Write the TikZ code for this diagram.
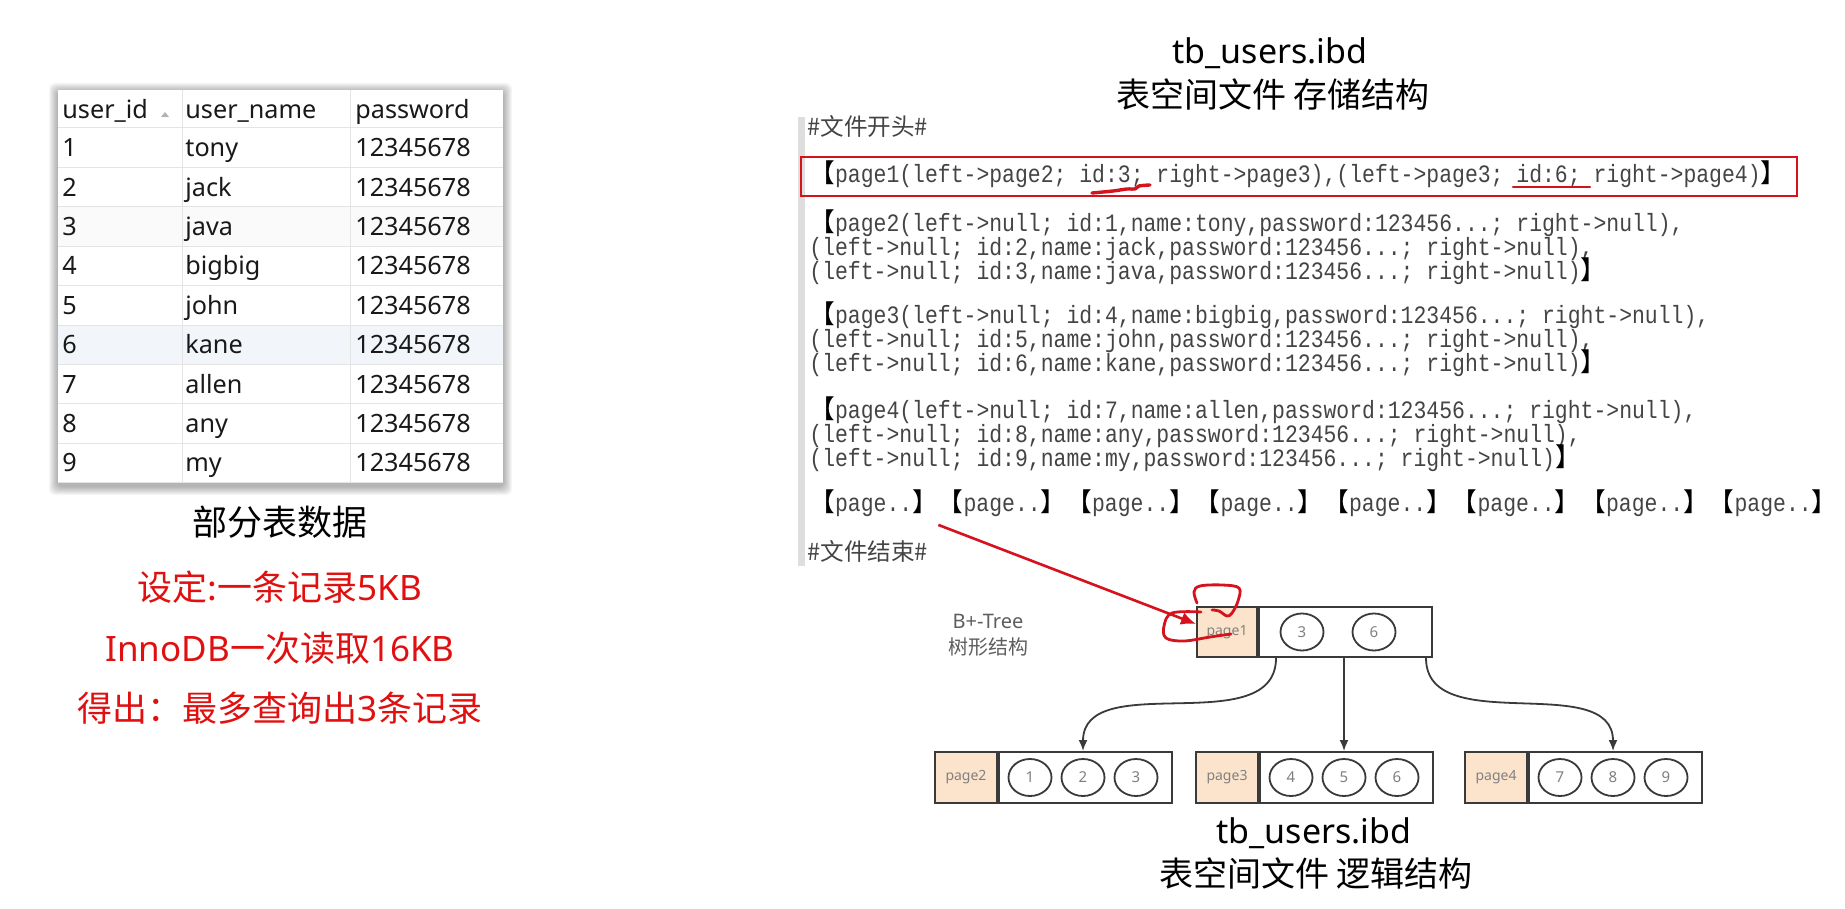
\documentclass[tikz,border=0pt]{standalone}
\usepackage{fontspec}
\setmainfont{Noto Sans CJK SC}
\newfontfamily\latin{Noto Sans}
\newfontfamily\cjkfont{Noto Sans CJK SC}
\newfontfamily\codefont[FakeStretch=0.857]{Liberation Mono}
\usepackage{xcolor}
\usepackage{tikz}
\usetikzlibrary{arrows.meta,positioning,shapes.geometric,calc}
\definecolor{codeGray}{HTML}{444444}
\definecolor{markRed}{RGB}{214,18,28}
\definecolor{noteRed}{RGB}{224,16,16}
\definecolor{pagePeach}{RGB}{252,228,204}
\definecolor{lineGray}{HTML}{3A3A3A}
\definecolor{labelGray}{HTML}{808080}
\definecolor{treeGray}{HTML}{5E5E5E}
\definecolor{rowTint}{HTML}{F2F5FA}
\definecolor{gridGray}{HTML}{E4E4E4}
\newcommand\lbk{{\cjkfont\fontsize{12.85pt}{15pt}\selectfont\color{black}【}}
\newcommand\rbk{{\cjkfont\fontsize{12.85pt}{15pt}\selectfont\color{black}】}}
\tikzset{
  tabtext/.style={anchor=base west, inner sep=0pt, font=\latin\fontsize{12.6pt}{15pt}\selectfont, text=black!90},
  note/.style={inner sep=0pt, font=\fontsize{17.5pt}{21pt}\selectfont},
  title/.style={inner sep=0pt, font=\fontsize{17pt}{20pt}\selectfont},
  code/.style={anchor=base west, inner sep=0pt, text height=9pt, text depth=2.5pt, font=\codefont\fontsize{12.5pt}{15pt}\selectfont, text=codeGray},
  fileedge/.style={anchor=base west, inner sep=0pt, font=\fontsize{11.8pt}{14pt}\selectfont, text=codeGray},
  treelabel/.style={inner sep=0pt, font=\fontsize{10pt}{12pt}\selectfont, text=treeGray},
  pgcell/.style={rectangle, draw=lineGray, line width=1pt, fill=pagePeach, minimum width=31pt, minimum height=25.5pt, inner sep=0pt, font=\latin\fontsize{7pt}{9pt}\selectfont, text=labelGray},
  recbox/.style={rectangle, draw=lineGray, line width=1pt, minimum width=86.5pt, minimum height=25.5pt, inner sep=0pt, anchor=west},
  keynode/.style={ellipse, draw=lineGray, line width=0.9pt, minimum width=21.5pt, minimum height=18.5pt, inner sep=0pt, font=\latin\fontsize{7.5pt}{9pt}\selectfont, text=labelGray},
  arrow/.style={-{Latex[length=5.5pt,width=4.5pt]}, line width=0.9pt, draw=lineGray},
  redarrow/.style={-{Latex[length=7.5pt,width=6.5pt]}, line width=1.3pt, draw=markRed},
  redpen/.style={line width=1.4pt, draw=markRed, line cap=round, line join=round}
}
\begin{document}
\begin{tikzpicture}[x=0.5pt, y=-0.5pt]
  \useasboundingbox (0,0) rectangle (1845,909);
  \fill[white] (0,0) rectangle (1845,909);

  % table
  \foreach \s in {1,...,9}
    \fill[black, opacity=0.034, rounded corners=3pt] (58-\s,90-\s+2) rectangle (503+\s,483+\s+3);
  \fill[white] (58,90) rectangle (503,483);
  \fill[black!2] (58,207) rectangle (503,246);
  \fill[rowTint] (58,325) rectangle (503,365);
  \foreach \i in {0,...,9}
    \draw[gridGray, line width=0.5pt] (58,128+39.4*\i) -- (503,128+39.4*\i);
  \draw[gridGray, line width=0.5pt] (182,90) -- (182,483) (350,90) -- (350,483);
  \node[tabtext] (hid) at (62,119) {user\_id};
  \node[tabtext] (hname) at (185,119) {user\_name};
  \node[tabtext] (hpwd) at (355,119) {password};
  \fill[black!30] (161,117) -- (169,117) -- (165,112) -- cycle;
  \foreach \name [count=\i] in {tony,jack,java,bigbig,john,kane,allen,any,my} {
    \node[tabtext] (id\i) at (62,117.3+39.4*\i) {\i};
    \node[tabtext] (nm\i) at (185,117.3+39.4*\i) {\name};
    \node[tabtext] (pw\i) at (355,117.3+39.4*\i) {12345678};
  }
  \node[note] (cap) at (280,522) {部分表数据};
  \node[note, text=noteRed] (n1) at (280,587) {设定:一条记录{\latin 5KB}};
  \node[note, text=noteRed] (n2) at (280,648) {{\latin InnoDB}一次读取{\latin 16KB}};
  \node[note, text=noteRed] (n3) at (280,708) {得出：最多查询出{\latin 3}条记录};

  % storage file
  \node[title] (ttop) at (1270,53) {\latin tb\_users.ibd};
  \node[title] (ttopcn) at (1273,94) {表空间文件 存储结构};
  \fill[black!13] (798,117) rectangle (805,566);
  \node[fileedge] (fstart) at (807,136) {\#文件开头\#};
  \node[code] (l1) at (809,182.5) {\lbk page1(left->page2; id:3; right->page3),(left->page3; id:6; right->page4)\rbk};
  \draw[markRed, line width=1pt] (801,157) rectangle (1797,196);
  \node[code] (l21) at (809,231.5) {\lbk page2(left->null; id:1,name:tony,password:123456...; right->null),};
  \node[code] (l22) at (809,255.5) {(left->null; id:2,name:jack,password:123456...; right->null),};
  \node[code] (l23) at (809,279.5) {(left->null; id:3,name:java,password:123456...; right->null)\rbk};
  \node[code] (l31) at (809,323.5) {\lbk page3(left->null; id:4,name:bigbig,password:123456...; right->null),};
  \node[code] (l32) at (809,347.5) {(left->null; id:5,name:john,password:123456...; right->null),};
  \node[code] (l33) at (809,371.5) {(left->null; id:6,name:kane,password:123456...; right->null)\rbk};
  \node[code] (l41) at (809,418.5) {\lbk page4(left->null; id:7,name:allen,password:123456...; right->null),};
  \node[code] (l42) at (809,442.5) {(left->null; id:8,name:any,password:123456...; right->null),};
  \node[code] (l43) at (809,466) {(left->null; id:9,name:my,password:123456...; right->null)\rbk};
  \foreach \i in {0,...,7}
    \node[code] (pp\i) at (809+128.5*\i,511.5) {\lbk page..\rbk};
  \node[fileedge] (fend) at (807,560) {\#文件结束\#};
  \draw[redpen, line width=1.7pt] plot[smooth, tension=0.6] coordinates {(1092,193) (1113,191) (1127,189) (1135,189) (1139,186) (1150,185)};
  \draw[redpen, line width=1.1pt] (1513,187) -- (1590,187);

  % B+ tree
  \node[treelabel] (bt) at (988,621) {\latin B+-Tree};
  \node[treelabel, below=4.5pt of bt] (btcn) {树形结构};
  \node[pgcell, minimum width=30pt, minimum height=25pt] (pg1) at (1227,632) {page1};
  \node[recbox, minimum height=25pt] (rec1) at (pg1.east) {};
  \node[keynode] (k3) at (1302,632) {3};
  \node[keynode] (k6) at (1374,632) {6};
  \foreach \n/\x/\a/\b/\c in {2/966/1/2/3, 3/1227/4/5/6, 4/1496/7/8/9} {
    \node[pgcell] (pg\n) at (\x,777.5) {page\n};
    \node[recbox] (rec\n) at (pg\n.east) {};
    \node[keynode] (k\a) at ($(pg\n.east)+(32,0)$) {\a};
    \node[keynode] (k\b) at ($(pg\n.east)+(85,0)$) {\b};
    \node[keynode] (k\c) at ($(pg\n.east)+(138,0)$) {\c};
  }
  \draw[arrow] ([xshift=9pt]pg1.south east) to[out=-90, in=90] (k2 |- rec2.north);
  \draw[arrow] (k5 |- rec1.south) -- (k5 |- rec3.north);
  \draw[arrow] ([xshift=-3.5pt]rec1.south east) to[out=-90, in=90] (k8 |- rec4.north);
  \node[title] (tbot) at (1314,833) {\latin tb\_users.ibd};
  \node[title] (tbotcn) at (1316,873) {表空间文件 逻辑结构};

  % red marks
  \draw[redarrow] ([yshift=-4pt]pp0.south east) -- ([yshift=4pt]pg1.west);
  \draw[redpen] plot[smooth, tension=0.6] coordinates {(1197,603) (1194,592) (1200,586) (1222,585) (1239,588) (1238,601) (1232,613) (1227,616) (1219,611) (1212,610)};
  \draw[redpen] plot[smooth, tension=0.6] coordinates {(1201,612) (1172,613) (1164,626) (1166,638) (1184,641) (1210,637) (1231,634)};
\end{tikzpicture}
\end{document}
